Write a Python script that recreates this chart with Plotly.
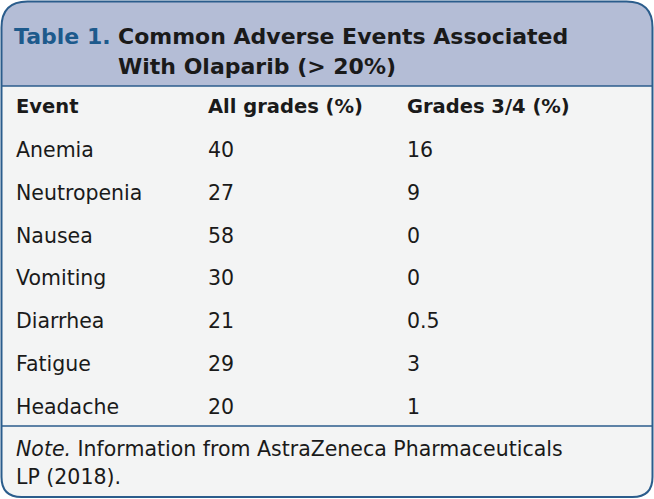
import plotly.graph_objects as go

title_label = "Table 1."
title_lines = ["Common Adverse Events Associated", "With Olaparib (> 20%)"]
headers = ["Event", "All grades (%)", "Grades 3/4 (%)"]
events = ["Anemia", "Neutropenia", "Nausea", "Vomiting", "Diarrhea", "Fatigue", "Headache"]
all_grades = ["40", "27", "58", "30", "21", "29", "20"]
grades_34 = ["16", "9", "0", "0", "0.5", "3", "1"]
note_lines = ["<i>Note.</i> Information from AstraZeneca Pharmaceuticals", "LP (2018)."]

W, H = 654, 499
FONT = "DejaVu Sans"
BORDER = "#2b5d8c"
BAND = "#b4bdd6"
BODY = "#f3f4f4"

col_x = [14, 206, 405]
row_y0, row_dy = 150, 42.8
header_y = 106

fig = go.Figure()
fig.add_trace(go.Scatter(x=[0], y=[0], mode="markers", marker=dict(opacity=0), hoverinfo="skip", showlegend=False))

L, R, T, B = 1.5, 652.5, 1.5, 497
r = 26
rb = 20
band_bottom = 86
note_line = 426

outer = (f"M {L},{T+r} Q {L},{T} {L+r},{T} L {R-r},{T} Q {R},{T} {R},{T+r} "
         f"L {R},{B-rb} Q {R},{B} {R-rb},{B} L {L+rb},{B} Q {L},{B} {L},{B-rb} Z")
band = (f"M {L},{T+r} Q {L},{T} {L+r},{T} L {R-r},{T} Q {R},{T} {R},{T+r} "
        f"L {R},{band_bottom} L {L},{band_bottom} Z")

shapes = [
    dict(type="path", path=outer, xref="x", yref="y", fillcolor=BODY, line=dict(width=0), layer="below"),
    dict(type="path", path=band, xref="x", yref="y", fillcolor=BAND, line=dict(width=0), layer="below"),
    dict(type="line", x0=L, x1=R, y0=band_bottom, y1=band_bottom, xref="x", yref="y", line=dict(color=BORDER, width=1.5)),
    dict(type="line", x0=L, x1=R, y0=note_line, y1=note_line, xref="x", yref="y", line=dict(color=BORDER, width=1.5)),
    dict(type="path", path=outer, xref="x", yref="y", line=dict(color=BORDER, width=2)),
]

ann = []
def txt(x, y, s, size, color="#1a1a1a", bold=False):
    ann.append(dict(x=x, y=y, xref="x", yref="y", text=(f"<b>{s}</b>" if bold else s), showarrow=False,
                    xanchor="left", yanchor="middle", font=dict(family=FONT, size=size, color=color)))

txt(12, 36, title_label, 22, color="#1d5a8c", bold=True)
txt(116, 36, title_lines[0], 22, bold=True)
txt(116, 66, title_lines[1], 22, bold=True)
for x, h in zip(col_x, headers):
    txt(x, header_y, h, 19.5, bold=True)
for i, (e, a, g) in enumerate(zip(events, all_grades, grades_34)):
    y = row_y0 + i * row_dy
    txt(col_x[0], y, e, 20.5)
    txt(col_x[1], y, a, 20.5)
    txt(col_x[2], y, g, 20.5)
txt(14, 449, note_lines[0], 20.5)
txt(14, 477, note_lines[1], 20.5)

fig.update_layout(
    width=W, height=H, margin=dict(l=0, r=0, t=0, b=0),
    paper_bgcolor="white", plot_bgcolor="white",
    xaxis=dict(range=[0, W], visible=False, fixedrange=True),
    yaxis=dict(range=[H, 0], visible=False, fixedrange=True),
    shapes=shapes, annotations=ann, showlegend=False,
)
fig.write_html("out.html", config=dict(displayModeBar=False),
               post_script="document.body.style.margin='0';document.body.style.padding='0';document.body.style.overflow='hidden';")
